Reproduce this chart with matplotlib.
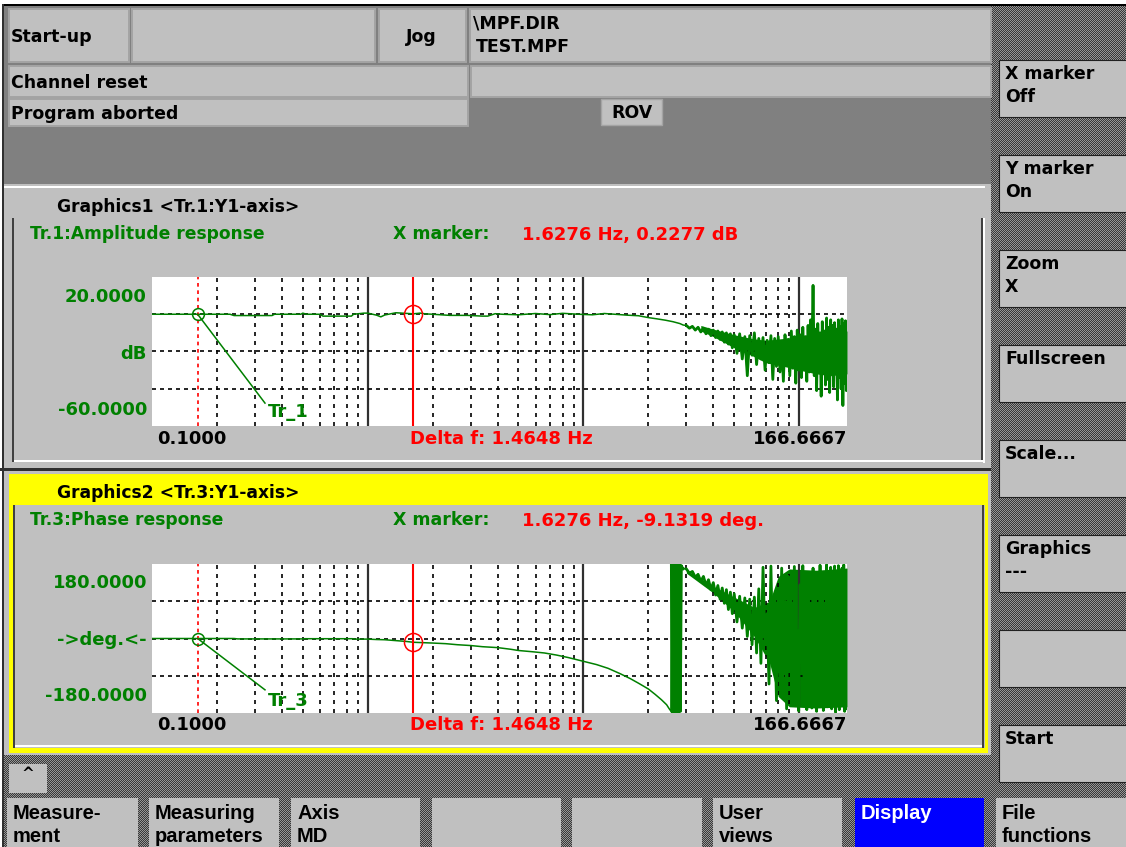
import numpy as np
import matplotlib
matplotlib.use('Agg')
from matplotlib import pyplot as plt
from matplotlib.patches import Rectangle
from matplotlib.ticker import LogLocator, NullLocator

plt.rcParams['font.family'] = ['DejaVu Sans']
plt.rcParams['font.weight'] = 'bold'

W, H = 1126, 847
GREEN = '#008000'
GREY = '#c0c0c0'

# ---- values ----
f_min, f_max = 0.1, 166.6667
amp_lim = (-60, 20)
phase_lim = (-180, 180)
amp_grid = [0, -20, -40]
phase_grid = [90, 0, -90]

marker_f = 1.6276
marker_amp = 0.2277
marker_phase = -9.1319
delta_f = 1.4648
ref_f = marker_f - delta_f

# amplitude response Tr.1, smooth part
amp_f = [0.10, 0.23, 0.24, 0.36, 0.37, 0.49, 0.50, 0.52, 0.60, 0.62, 0.84, 0.86,
         0.96, 1.00, 1.10, 1.15, 1.20, 1.35, 1.63, 1.75, 1.85, 2.0, 2.4, 2.9, 3.4,
         3.6, 3.9, 4.2, 5.0, 6.0, 7.0, 8.0, 9.5, 11.0, 12.5, 14.0, 16.0, 18.0, 20.0,
         22.0, 24.0, 26.0, 28.0, 29.0]
amp_db = [0, 0, -0.7, -0.7, 0, 0, 0.6, 0, 0, -1.0, -1.0, 0,
          0.6, 0.6, -0.5, -1.4, -0.4, 0.8, 0.23, 0.6, 0.2, 0, -0.6, -0.6, -1.0,
          -1.0, 0.3, 0, -0.3, 0.4, -0.2, 0.5, 0, -0.3, 0.4, 0, -0.5, -0.8, -1.8,
          -2.5, -3.2, -4.0, -5.0, -5.8]

# phase response Tr.3, smooth part
phase_f = [0.10, 0.24, 0.25, 0.50, 0.51, 0.85, 0.86, 1.00, 1.10, 1.20, 1.35, 1.50,
           1.63, 1.80, 2.0, 2.3, 2.6, 3.0, 3.4, 4.0, 4.6, 5.0, 5.8, 6.6, 7.5, 8.5,
           10.0, 11.5, 13.0, 14.8, 16.5, 18.0, 20.0, 21.5, 23.0, 24.3, 25.0, 25.5]
phase_deg = [0, 0, -1, -1, -0.5, -0.5, -1.5, -1.5, -2.5, -3, -5, -7,
             -9.13, -10, -11, -12.5, -15, -17, -19.8, -22, -26, -29, -32, -35, -40, -46,
             -55, -63, -72, -85, -97, -108, -122, -135, -148, -160, -170, -176]
# phase wrap at about 26 Hz
wrap_f = [25.6, 25.8, 26.0, 26.3, 26.6, 26.9, 27.2, 27.5, 27.8, 28.1, 28.4, 28.6, 29.0]
wrap_deg = [178, -178, 179, -179, 178, -177, 179, -178, 177, -176, 176, 172, 169]

# noisy upper band, both traces
hf_f = [30, 31, 32, 33, 34, 35, 36, 37, 38, 39, 40, 41, 42, 43, 44, 45, 46, 47, 48,
        49, 50, 51.5, 53, 54.5, 56, 57.5, 59, 60.5, 62, 63.5, 65, 66.5, 68, 69.5, 71,
        72.5, 74, 75.5, 77, 78.5, 80, 81.5, 83, 84.5, 86, 87.5, 89, 90.5, 92, 93.5,
        95, 96.5, 98, 99.5, 101, 102.5, 104, 105.5, 107, 108.5, 110, 111.5, 113,
        114.5, 116, 117.5, 119, 120.5, 122, 123.5, 125, 126.5, 128, 129.5, 131,
        132.5, 134, 135.5, 137, 138.5, 140, 141.5, 143, 144.5, 146, 147.5, 149,
        150.5, 152, 153.5, 155, 156.5, 158, 159.5, 161, 162.5, 164, 165.5, 166.6]
hf_amp_db = [-6.0, -7.5, -6.5, -8.5, -7.0, -9.5, -7.5, -10.5, -8.0, -11.5, -8.5,
             -12.5, -9.0, -13.5, -9.5, -15.0, -10.0, -16.0, -10.5, -18.0, -11.0,
             -21.0, -10.5, -24.0, -12.0, -33.0, -11.5, -22.0, -10.0, -27.0, -13.0,
             -24.0, -12.5, -30.0, -14.0, -26.0, -11.5, -35.0, -13.0, -28.0, -12.0,
             -31.0, -14.5, -36.0, -11.0, -27.0, -13.5, -33.0, -9.0, -29.0, -12.0,
             -37.0, -8.5, -30.0, -11.0, -34.0, -7.0, -28.0, -12.0, -36.0, -6.0,
             -31.0, -3.0, -27.0, 15.5, -33.0, -8.0, -41.0, -5.0, -30.0, -10.0,
             -44.0, -4.0, -29.0, -9.0, -38.0, -2.0, -35.0, -7.0, -42.0, -3.0,
             -32.0, -6.0, -39.0, -4.5, -30.0, -8.0, -46.0, -3.0, -34.0, -6.5,
             -40.0, -2.5, -49.0, -5.0, -37.0, -3.5, -41.0, -14.0]
hf_phase_deg = [168, 158, 162, 148, 155, 138, 150, 128, 142, 118, 135, 105, 128,
                95, 122, 85, 118, 70, 112, 60, 108, 40, 102, 25, 98, 5, 95, -15, 100,
                -35, 120, -60, 172, -10, 60, -110, 175, -60, 40, -150, 120, -95, 170,
                -30, 90, -170, 150, -80, 60, -160, 174, -120, 20, -175, 130, -60,
                176, -140, 80, -172, 160, -100, 40, -168, 170, -130, 110, -176, 60,
                -150, 177, -90, 140, -174, 20, -120, 178, -165, 100, -60, 172, -170,
                130, -140, 175, -178, 80, -110, 176, -172, 150, -160, 170, -100, 178,
                -176, 160, -170, 165]

# solid core of the noise where the trace fills the screen
amp_band_f = [35, 40, 50, 60, 70, 85, 100, 120, 140, 166.6]
amp_band_lo = [-9, -12, -18, -22, -26, -28, -30, -32, -33, -32]
amp_band_hi = [-6, -8, -11, -13, -14, -13, -12, -11, -10, -9]
phase_band_f = [30, 40, 50, 62, 73, 80, 90, 120, 166.6]
phase_band_lo = [158, 110, 65, 5, -60, -140, -165, -168, -165]
phase_band_hi = [166, 126, 100, 75, 90, 150, 168, 165, 170]

top_boxes = [(9, 9, 129, 62, 'Start-up'), (132, 9, 375, 62, ''), (379, 9, 466, 62, ''),
             (470, 9, 991, 62, ''), (9, 66, 468, 97, 'Channel reset'),
             (471, 66, 991, 97, ''), (9, 99, 468, 126, 'Program aborted')]
side_keys = [('X marker', 'Off'), ('Y marker', 'On'), ('Zoom', 'X'), ('Fullscreen', ''),
             ('Scale...', ''), ('Graphics', '---'), ('', ''), ('Start', '')]
side_tops = [60, 155, 250, 345, 440, 535, 630, 725]
bottom_keys = [('Measure-', 'ment'), ('Measuring', 'parameters'), ('Axis', 'MD'),
               ('', ''), ('', ''), ('User', 'views'), ('Display', ''), ('File', 'functions')]
bottom_x = [(7, 138), (149, 279), (291, 420), (432, 561), (572, 702), (713, 842),
            (855, 984), (996, 1126)]

fig = plt.figure(figsize=(W / 100, H / 100), dpi=100)
fig.patch.set_facecolor('white')

# dithered background of the softkey areas
yy, xx = np.mgrid[0:H, 0:W]
dots = np.where((xx + yy) % 2 == 0, 150, 56).astype(np.uint8)
fig.figimage(np.dstack([dots, dots, dots]), 0, 0, origin='upper', zorder=-10)

ui = fig.add_axes([0, 0, 1, 1])
ui.set_xlim(0, W)
ui.set_ylim(H, 0)
ui.axis('off')


def box(x0, y0, x1, y1, fc, ec='none', lw=0):
    ui.add_patch(Rectangle((x0, y0), x1 - x0, y1 - y0, fc=fc, ec=ec, lw=lw))


def label(x, y, s, color='black', size=12.5, ha='left', family=None):
    # y = middle of the capitals, pixels from the top
    kw = {} if family is None else {'family': family}
    ui.text(x, y + 0.365 * size * 100 / 72, s, color=color, fontsize=size,
            ha=ha, va='baseline', **kw)


box(0, 0, W, 4, 'white')
box(0, 0, 2, H, 'white')
box(2, 4, W, 6, 'black')
box(2, 4, 4, H, '#303030')

# status lines
box(4, 6, 991, 184, '#808080')
for x0, y0, x1, y1, s in top_boxes:
    box(x0, y0, x1, y1, GREY, ec='#a4a4a4', lw=1.4)
    if s:
        label(x0 + 2, (y0 + y1) / 2, s)
label(421, 36, 'Jog', ha='center')
label(473, 22, '\\MPF.DIR')
label(476, 46, 'TEST.MPF')
box(601, 99, 662, 125, GREY, ec='#a4a4a4', lw=1.0)
label(632, 112, 'ROV', ha='center')

# Graphics1 panel
box(4, 184, 991, 468, GREY)
box(4, 186, 985, 188, 'white')
box(12, 218, 14, 462, '#404040')
box(981, 218, 983, 462, '#404040')
box(983, 218, 985, 463, 'white')
box(14, 460, 983, 462, 'white')
box(0, 468, 991, 471, '#303030')

# Graphics2 panel
box(4, 471, 991, 755, GREY)
box(9, 474, 988, 505, '#ffff00')
box(9, 505, 13, 753, '#ffff00')
box(985, 505, 988, 753, '#ffff00')
box(9, 748, 988, 753, '#ffff00')
box(13, 505, 15, 748, '#404040')
box(982, 505, 984, 748, '#404040')
box(15, 745, 982, 747, 'white')

panels = [
    (206, 'Graphics1 <Tr.1:Y1-axis>', 'Tr.1:Amplitude response',
     f'{marker_f:.4f} Hz, {marker_amp:.4f} dB', [f'{amp_lim[1]:.4f}', 'dB', f'{amp_lim[0]:.4f}']),
    (492, 'Graphics2 <Tr.3:Y1-axis>', 'Tr.3:Phase response',
     f'{marker_f:.4f} Hz, {marker_phase:.4f} deg.',
     [f'{phase_lim[1]:.4f}', '->deg.<-', f'{phase_lim[0]:.4f}']),
]
for top, title, trace, mark, ylabels in panels:
    label(57, top, title, size=12.3)
    label(30, top + 27, trace, GREEN, size=12.3)
    label(393, top + 27, 'X marker:', GREEN)
    label(522, top + 27, mark, 'red', size=13)
    label(147, top + 89, ylabels[0], GREEN, size=13, ha='right')
    label(147, top + 146, ylabels[1], GREEN, size=13, ha='right')
    label(147, top + 202, ylabels[2], GREEN, size=13, ha='right')
    label(157, top + 231, f'{f_min:.4f}', size=13)
    label(410, top + 231, f'Delta f: {delta_f:.4f} Hz', 'red', size=13)
    label(847, top + 231, f'{f_max:.4f}', size=13, ha='right')

# softkeys
for (a, b), t in zip(side_keys, side_tops):
    box(999, t, W + 1, t + 57, GREY, ec='#202020', lw=0.8)
    label(1005, t + 13, a, size=12.5)
    label(1005, t + 36, b, size=12.5)

box(9, 764, 47, 793, GREY)
label(28, 772, '^', size=11, ha='center')
narrow = ['Liberation Sans Narrow', 'Liberation Sans']
for (a, b), (x0, x1) in zip(bottom_keys, bottom_x):
    blue = a == 'Display'
    box(x0, 798, x1, H + 2, '#0000ff' if blue else GREY)
    c = 'white' if blue else 'black'
    label(x0 + 6, 812, a, c, size=14.5, family=narrow)
    label(x0 + 6, 835, b, c, size=14.5, family=narrow)


def graph(top, fx, fy, lim, grid_y, mval, tag, tag_xy, tag_end):
    ax = fig.add_axes([152 / W, 1 - (top + 149) / H, 695 / W, 149 / H], zorder=2)
    ax.set_facecolor('white')
    ax.set_xscale('log')
    ax.set_xlim(f_min, f_max)
    ax.set_ylim(*lim)
    ax.set_xticks([1, 10, 100])
    ax.xaxis.set_minor_locator(LogLocator(base=10, subs=np.arange(2, 10)))
    ax.set_yticks(grid_y)
    ax.yaxis.set_minor_locator(NullLocator())
    ax.grid(axis='x', which='major', color='#303030', lw=1.6, ls='-')
    ax.grid(axis='x', which='minor', color='black', lw=1.2, ls=(0, (2.4, 3.0)))
    ax.grid(axis='y', which='major', color='black', lw=1.2, ls=(0, (2.4, 2.4)))
    ax.tick_params(which='both', length=0, labelbottom=False, labelleft=False)
    for s in ax.spines.values():
        s.set_visible(False)
    ax.plot(fx, fy, color=GREEN, lw=1.1)
    ax.axvline(ref_f, color='red', lw=1.2, ls=(0, (2.2, 2.2)))
    ax.axvline(marker_f, color='red', lw=1.5)
    ax.plot([ref_f, tag_end[0]], [0, tag_end[1]], color=GREEN, lw=1.1)
    ax.plot([ref_f], [0], 'o', mfc='none', mec=GREEN, ms=8.5, mew=1.1)
    ax.plot([marker_f], [mval], 'o', mfc='none', mec='red', ms=13, mew=1.1)
    ax.text(tag_xy[0], tag_xy[1], tag, color=GREEN, fontsize=13, va='center')
    return ax


ax1 = graph(277, amp_f + hf_f, amp_db + hf_amp_db, amp_lim, amp_grid, marker_amp,
            'Tr_1', (0.345, -52.5), (0.334, -47.7))
ax1.fill_between(amp_band_f, amp_band_lo, amp_band_hi, color=GREEN, lw=0)
ax1.plot(hf_f, hf_amp_db, color=GREEN, lw=2.0)

ax2 = graph(564, phase_f + wrap_f + hf_f, phase_deg + wrap_deg + hf_phase_deg,
            phase_lim, phase_grid, marker_phase, 'Tr_3', (0.345, -150), (0.334, -124))
ax2.fill_between(phase_band_f, phase_band_lo, phase_band_hi, color=GREEN, lw=0)
ax2.plot(wrap_f, wrap_deg, color=GREEN, lw=2.2)
ax2.plot(hf_f, hf_phase_deg, color=GREEN, lw=2.0)

fig.savefig('out.png', dpi=100)
